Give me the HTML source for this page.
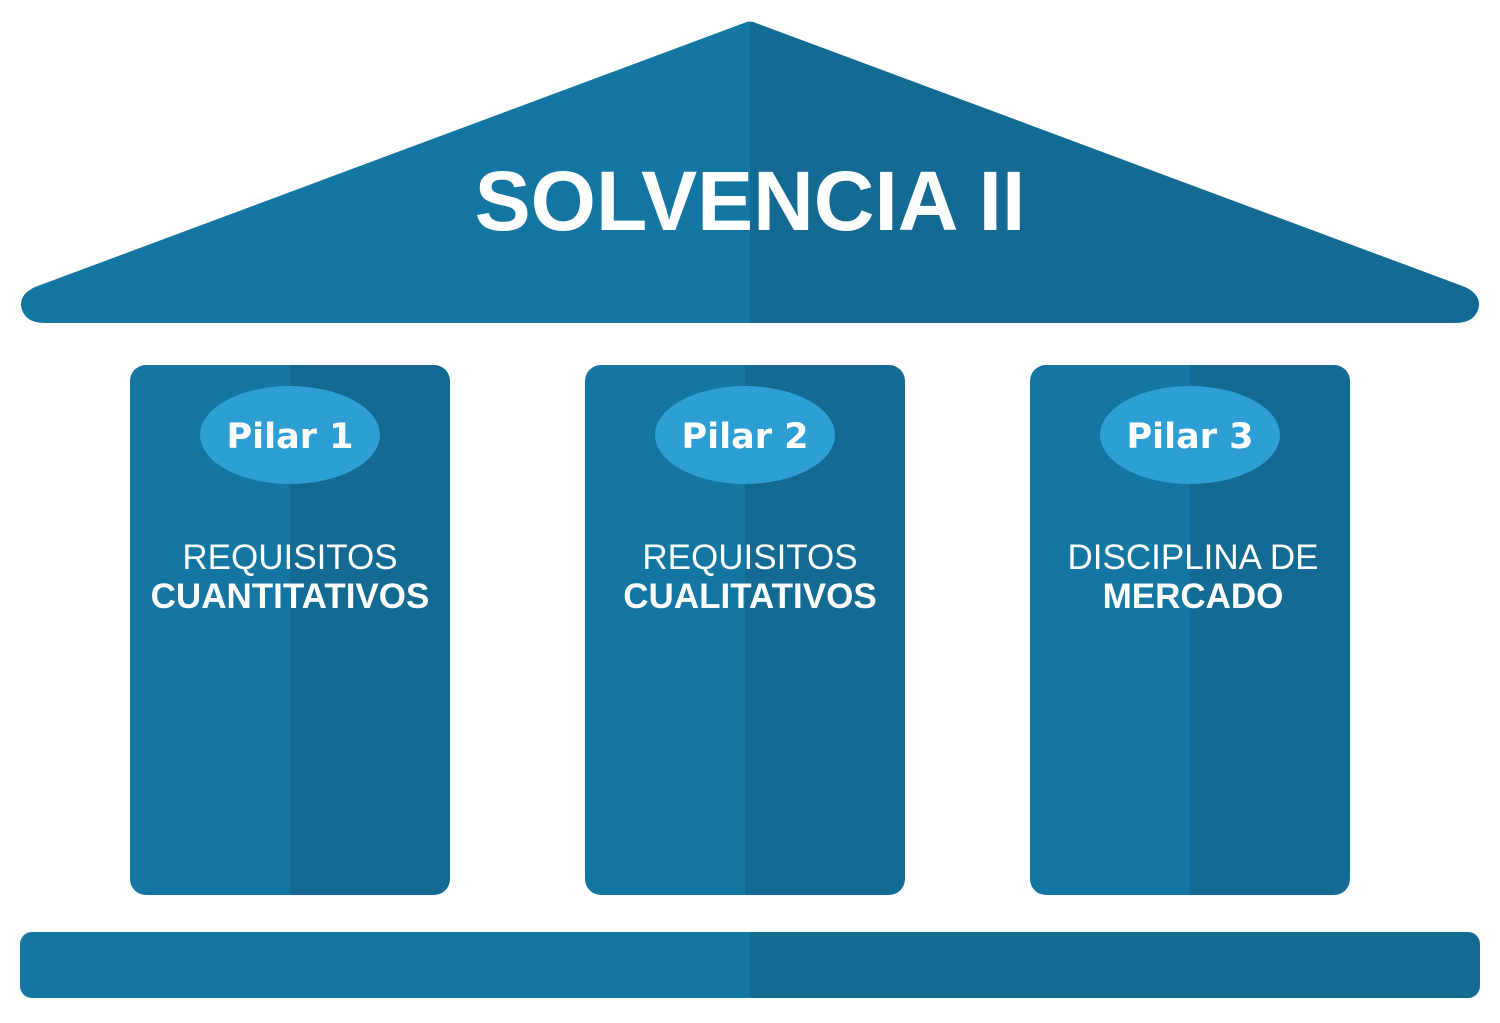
<!DOCTYPE html>
<html><head><meta charset="utf-8"><style>html,body{margin:0;padding:0;background:#fff}</style></head>
<body>
<svg width="1500" height="1018" viewBox="0 0 1500 1018" xmlns="http://www.w3.org/2000/svg" font-family="Liberation Sans, Arial, sans-serif">
<defs>
<clipPath id="roof"><path d="M744 23 Q750 20 756 23 L1465 287 Q1480 294 1479 306 Q1476 323 1455 323 L45 323 Q24 323 21 306 Q20 294 35 287 Z"/></clipPath>
<clipPath id="base"><rect x="20" y="932" width="1460" height="66" rx="12"/></clipPath>
<clipPath id="p1"><rect x="130" y="365" width="320" height="530" rx="16"/></clipPath>
<clipPath id="p2"><rect x="585" y="365" width="320" height="530" rx="16"/></clipPath>
<clipPath id="p3"><rect x="1030" y="365" width="320" height="530" rx="16"/></clipPath>
</defs>
<g clip-path="url(#roof)"><rect x="0" y="0" width="750" height="330" fill="#1476a2"/><rect x="750" y="0" width="750" height="330" fill="#136a92"/></g>
<g clip-path="url(#base)"><rect x="0" y="930" width="750" height="70" fill="#1476a2"/><rect x="750" y="930" width="750" height="70" fill="#136a92"/></g>
<g clip-path="url(#p1)"><rect x="130" y="365" width="160" height="530" fill="#1476a2"/><rect x="290" y="365" width="160" height="530" fill="#136a92"/></g>
<g clip-path="url(#p2)"><rect x="585" y="365" width="160" height="530" fill="#1476a2"/><rect x="745" y="365" width="160" height="530" fill="#136a92"/></g>
<g clip-path="url(#p3)"><rect x="1030" y="365" width="160" height="530" fill="#1476a2"/><rect x="1190" y="365" width="160" height="530" fill="#136a92"/></g>
<text x="750" y="230" text-anchor="middle" font-size="84" font-weight="bold" fill="#fff">SOLVENCIA II</text>
<g fill="#2e9fd4"><ellipse cx="290" cy="435" rx="90" ry="49"/><ellipse cx="745" cy="435" rx="90" ry="49"/><ellipse cx="1190" cy="435" rx="90" ry="49"/></g>
<g fill="#fff" font-size="35" font-weight="bold" text-anchor="middle" font-family="DejaVu Sans, sans-serif">
<text x="290" y="448">Pilar 1</text><text x="745" y="448">Pilar 2</text><text x="1190" y="448">Pilar 3</text></g>
<g fill="#fff" font-size="35" text-anchor="middle">
<text x="290" y="569">REQUISITOS</text><text x="290" y="608" font-weight="bold">CUANTITATIVOS</text>
<text x="750" y="569">REQUISITOS</text><text x="750" y="608" font-weight="bold">CUALITATIVOS</text>
<text x="1193" y="569">DISCIPLINA DE</text><text x="1193" y="608" font-weight="bold">MERCADO</text>
</g>
</svg>
</body></html>
